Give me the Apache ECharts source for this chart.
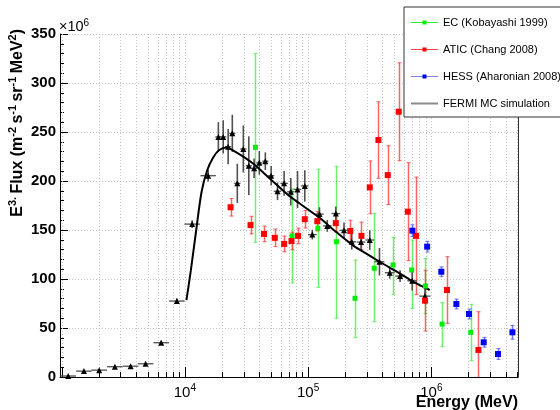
<!DOCTYPE html>
<html><head><meta charset="utf-8">
<script src="https://cdn.jsdelivr.net/npm/echarts@6/dist/echarts.min.js"></script>
<style>html,body{margin:0;padding:0;background:#fff}#c{width:560px;height:410px}</style>
</head><body><div id="c"></div>
<script>
// ---------- DATA (Energy in MeV, flux in units of 1e6 m^-2 s^-1 sr^-1 MeV^2) ----------
const ecE    = [37400, 74100, 120000, 169800, 240400, 344100, 488400, 693000, 895300, 1222000, 2090000];
const ecFlux = [234.3, 144, 151.7, 138, 80.3, 111, 114.3, 109.2, 92.8, 54, 45.6];
const ecLow  = [137.4, 96, 91.5, 60, 40.1, 56.4, 84.4, 70, 64.6, 30.9, 16.6];
const ecHigh = [330, 192, 212, 215, 119.4, 167, 142.5, 139.8, 121, 75.8, 74.2];

const aticE    = [23500, 34120, 43890, 53670, 63890, 73340, 82930, 94000, 118800, 167800, 219800, 270900, 316500, 372100, 442800, 544000, 644400, 750500, 889200, 1340000, 2410000];
const aticFlux = [173.2, 155, 146, 142, 135.8, 138.8, 144, 161, 159, 157, 149, 144, 193.5, 241.8, 206, 270.7, 168.7, 144, 77.9, 88.8, 27.6];
const aticErr  = [9, 9, 8, 9, 8, 9, 8, 9, 10, 9, 11, 14, 27, 39, 30, 50, 50, 60, 31, 34, 39];

const hessE    = [702000, 925000, 1205000, 1596000, 2022000, 2660000, 3476000, 4550000];
const hessFlux = [149.3, 133, 107.4, 74.5, 64.3, 35.4, 23.5, 45.6];
const hessErr  = [6, 5.5, 5, 5, 5, 5, 5.5, 7];

const fermiE    = [1131, 1517, 2018, 2705, 3628, 4800, 6424, 8610, 11450, 15450, 18700, 20470, 22450, 24270, 26650, 29820, 33020, 36460, 40190, 44970, 50140, 56460, 63890, 72400, 82070, 94000, 108200, 123700, 143100, 167800, 195600, 226100, 269100, 316500, 379400, 459800, 557600, 699400, 887400];
const fermiFlux = [1, 6, 7, 10.5, 11, 13.5, 35, 77.5, 156, 205.4, 245, 245, 235, 248.6, 197.6, 232.7, 215.6, 213, 218.5, 220.2, 205.4, 189.5, 197.6, 189, 191.4, 195, 145.3, 166.2, 154.2, 166.8, 149.7, 138, 137.7, 139.8, 117.6, 106.4, 103, 98.2, 82.5];
const fermiErr  = [0.5, 0.8, 1, 1, 1, 1.2, 2, 2.5, 4, 6, 15, 17, 18, 19, 20, 24, 30, 10, 12, 9, 10, 9, 12.7, 14, 19, 16, 5, 7, 6, 7, 8, 8, 8, 10, 14, 6, 6, 10, 8];
const fermiBinDex = [0.063, 0.063, 0.063, 0.063, 0.063, 0.063, 0.063, 0.063, 0.063, 0.063, 0.025, 0.025, 0.025, 0.025, 0.025, 0.025, 0.025, 0.025, 0.025, 0.025, 0.025, 0.03, 0.03, 0.03, 0.03, 0.03, 0.035, 0.035, 0.035, 0.035, 0.035, 0.035, 0.035, 0.035, 0.04, 0.04, 0.04, 0.04, 0.045];

const mcE    = [10300, 11190, 12450, 13670, 15180, 16980, 19000, 21830, 24720, 29790, 36980, 48870, 68870, 85480, 128300, 159300, 238800, 297200, 381000, 554000, 711000, 970000];
const mcFlux = [78.5, 109, 153, 189, 211, 224, 231.6, 234.3, 231, 224.8, 216.3, 202.5, 185.7, 177, 161, 150.6, 133, 126, 117.6, 105.8, 97.2, 88.8];

const seriesNames = ['EC (Kobayashi 1999)', 'ATIC (Chang 2008)', 'HESS (Aharonian 2008)', 'FERMI MC simulation'];
const yTickValues = [0, 50, 100, 150, 200, 250, 300, 350];
const xDecadeLabels = [4, 5, 6];

// ---------- CHART ----------
const FONT = '"Liberation Sans", Arial, Helvetica, sans-serif';
const xMin = 970, xMax = 5.05e6;
const chart = echarts.init(document.getElementById('c'), null, {renderer: 'canvas'});

const xTicks = [];
for (let d = 3; d <= 6; d++) {
  for (let m = 1; m <= 9; m++) {
    const v = m * Math.pow(10, d);
    if (v >= xMin && v <= xMax) xTicks.push([v, 0, m === 1 ? 1 : 0]);
  }
}

const pairs = (xs, ys) => xs.map((x, i) => [x, ys[i]]);

function vBarRender(color, width, capHalf) {
  return function (params, api) {
    const cs = params.coordSys;
    const bottom = cs.y + cs.height;
    const x = api.value(0), lo = api.value(1), hi = api.value(2);
    const pLo = api.coord([x, Math.max(lo, 0)]);
    const pHi = api.coord([x, hi]);
    const px = Math.round(pLo[0]) + 0.5;
    const yLo = Math.min(pLo[1], bottom), yHi = Math.max(pHi[1], cs.y);
    const ch = [{type: 'line', shape: {x1: px, y1: yLo, x2: px, y2: yHi}, style: {stroke: color, lineWidth: width}}];
    if (capHalf > 0) {
      if (lo > 0) ch.push({type: 'line', shape: {x1: px - capHalf, y1: yLo, x2: px + capHalf, y2: yLo}, style: {stroke: color, lineWidth: 1}});
      ch.push({type: 'line', shape: {x1: px - capHalf, y1: yHi, x2: px + capHalf, y2: yHi}, style: {stroke: color, lineWidth: 1}});
    }
    return {type: 'group', children: ch};
  };
}

function fermiBarRender(params, api) {
  const x = api.value(0), v = api.value(1), xl = api.value(2), xh = api.value(3), yl = api.value(4), yh = api.value(5);
  const a = api.coord([xl, v]), b = api.coord([xh, v]);
  const c = api.coord([x, Math.max(yl, 0)]), d = api.coord([x, yh]);
  const col = '#505050';
  return {type: 'group', children: [
    {type: 'line', shape: {x1: a[0], y1: a[1], x2: b[0], y2: b[1]}, style: {stroke: col, lineWidth: 1.3}},
    {type: 'line', shape: {x1: c[0], y1: c[1], x2: d[0], y2: d[1]}, style: {stroke: col, lineWidth: 1.6}}
  ]};
}

const fermiBars = fermiE.map((e, i) => [e, fermiFlux[i], e / Math.pow(10, fermiBinDex[i]), e * Math.pow(10, fermiBinDex[i]), fermiFlux[i] - fermiErr[i], fermiFlux[i] + fermiErr[i]]);

const supRich = {
  b: {fontSize: 15, fontFamily: FONT, lineHeight: 20, color: '#000'},
  s: {fontSize: 10, fontFamily: FONT, lineHeight: 10, verticalAlign: 'top', color: '#000'}
};

const option = {
  animation: false,
  backgroundColor: '#fff',
  grid: {left: 60, right: 42, top: 34, bottom: 33, containLabel: false},
  xAxis: {
    type: 'log', logBase: 10, min: xMin, max: xMax,
    axisLine: {show: true, lineStyle: {color: '#000', width: 1}},
    axisTick: {show: false}, splitLine: {show: false}, minorTick: {show: false},
    axisLabel: {
      margin: 6, fontFamily: FONT, fontSize: 15, color: '#000',
      showMinLabel: false, showMaxLabel: false,
      formatter: function (v) {
        const l = Math.log10(v), r = Math.round(l);
        if (Math.abs(l - r) < 1e-6 && xDecadeLabels.indexOf(r) >= 0) return '{b|10}{s|' + r + '}';
        return '';
      },
      rich: supRich
    }
  },
  yAxis: [{
    type: 'value', min: yTickValues[0], max: yTickValues[yTickValues.length - 1], interval: 50,
    axisLine: {show: true, lineStyle: {color: '#000', width: 1}},
    axisTick: {show: true, inside: true, length: 8, lineStyle: {color: '#000'}},
    minorTick: {show: true, splitNumber: 5, length: 4, lineStyle: {color: '#000'}},
    splitLine: {show: true, lineStyle: {color: '#c4c4c4', type: [1, 2], width: 1}},
    axisLabel: {margin: 4, fontFamily: FONT, fontSize: 15, fontWeight: 'bold', color: '#000'}
  }, {
    type: 'value', position: 'right', min: 0, max: 350,
    axisLine: {show: true, lineStyle: {color: '#333', width: 1}},
    axisTick: {show: false}, axisLabel: {show: false}, splitLine: {show: false}
  }],
  legend: {
    left: 404, top: 7, orient: 'vertical',
    itemWidth: 27, itemHeight: 5, itemGap: 16,
    padding: [10, 40, 8, 6],
    backgroundColor: '#fff', borderColor: '#333', borderWidth: 1, borderRadius: 0,
    textStyle: {fontFamily: FONT, fontSize: 11, color: '#000'},
    data: [
      {name: seriesNames[0], lineStyle: {width: 1, opacity: 1, color: '#33ee33'}},
      {name: seriesNames[1], lineStyle: {width: 1, opacity: 1, color: '#ff4444'}},
      {name: seriesNames[2], lineStyle: {width: 1, opacity: 1, color: '#8080ff'}},
      {name: seriesNames[3], lineStyle: {width: 2, opacity: 1, color: '#8a8a8a'}, itemStyle: {opacity: 0}}
    ]
  },
  graphic: [
    {type: 'text', x: 18, y: 29, rotation: Math.PI / 2,
     style: {
       text: '{b|E}{s|3.} {b|Flux (m}{s|-2} {b|s}{s|-1} {b|sr}{s|-1} {b|MeV}{s|2}{b|)}',
       align: 'right', verticalAlign: 'middle',
       rich: {
         b: {fontSize: 16, fontWeight: 'bold', fontFamily: FONT, lineHeight: 22, fill: '#000', color: '#000'},
         s: {fontSize: 11, fontWeight: 'bold', fontFamily: FONT, lineHeight: 11, verticalAlign: 'top', fill: '#000', color: '#000'}
       }
     }},
    {type: 'text', x: 59, y: 27,
     style: {
       text: '{n|\u00d710}{s|6}', align: 'left', verticalAlign: 'middle',
       rich: {
         n: {fontSize: 14.5, fontFamily: FONT, lineHeight: 18, fill: '#000', color: '#000'},
         s: {fontSize: 10, fontFamily: FONT, lineHeight: 10, verticalAlign: 'top', fill: '#000', color: '#000'}
       }
     }},
    {type: 'text', x: 518, y: 403,
     style: {text: 'Energy (MeV)', align: 'right', verticalAlign: 'middle', fontSize: 16, fontWeight: 'bold', fontFamily: FONT, fill: '#000'}}
  ],
  series: [
    {type: 'custom', name: 'xgrid', silent: true, z: 1, data: xTicks, encode: {x: 0, y: 1},
     renderItem: function (params, api) {
       const cs = params.coordSys;
       const bottom = cs.y + cs.height;
       const x = Math.round(api.coord([api.value(0), 0])[0]) + 0.5;
       const len = api.value(2) ? 10 : 5;
       return {type: 'group', children: [
         {type: 'line', shape: {x1: x, y1: cs.y, x2: x, y2: bottom}, style: {stroke: '#c4c4c4', lineWidth: 1, lineDash: [1, 2]}},
         {type: 'line', shape: {x1: x, y1: bottom, x2: x, y2: bottom - len}, style: {stroke: '#000', lineWidth: 1}}
       ]};
     }},
    {type: 'custom', name: 'ecBars', silent: true, z: 2, encode: {x: 0, y: [1, 2]},
     data: ecE.map((e, i) => [e, ecLow[i], ecHigh[i]]), renderItem: vBarRender('rgba(60,235,60,0.75)', 1.5, 2)},
    {type: 'custom', name: 'aticBars', silent: true, z: 2, encode: {x: 0, y: [1, 2]},
     data: aticE.map((e, i) => [e, aticFlux[i] - aticErr[i], aticFlux[i] + aticErr[i]]), renderItem: vBarRender('rgba(255,40,40,0.72)', 1.5, 2)},
    {type: 'custom', name: 'hessBars', silent: true, z: 2, encode: {x: 0, y: [1, 2]},
     data: hessE.map((e, i) => [e, hessFlux[i] - hessErr[i], hessFlux[i] + hessErr[i]]), renderItem: vBarRender('rgba(60,60,255,0.7)', 1.5, 2)},
    {type: 'custom', name: 'fermiBars', silent: true, z: 2, encode: {x: [0, 2, 3], y: [1, 4, 5]},
     data: fermiBars, renderItem: fermiBarRender},
    {type: 'line', name: seriesNames[3], z: 3, data: pairs(mcE, mcFlux), smooth: 0.3, symbol: 'none',
     lineStyle: {color: '#000', width: 2}, itemStyle: {color: '#000'}},
    {type: 'line', name: 'FERMI points', z: 4, data: pairs(fermiE, fermiFlux), symbol: 'triangle', symbolSize: 6,
     itemStyle: {color: '#000'}, lineStyle: {width: 0, opacity: 0}},
    {type: 'line', name: seriesNames[0], z: 4, data: pairs(ecE, ecFlux), symbol: 'rect', symbolSize: 5,
     itemStyle: {color: '#00ee00'}, lineStyle: {width: 0, opacity: 0}},
    {type: 'line', name: seriesNames[1], z: 4, data: pairs(aticE, aticFlux), symbol: 'rect', symbolSize: 6,
     itemStyle: {color: '#ff0000'}, lineStyle: {width: 0, opacity: 0}},
    {type: 'line', name: seriesNames[2], z: 4, data: pairs(hessE, hessFlux), symbol: 'rect', symbolSize: 6,
     itemStyle: {color: '#0000ff'}, lineStyle: {width: 0, opacity: 0}}
  ]
};
chart.setOption(option);
</script>
</body></html>
